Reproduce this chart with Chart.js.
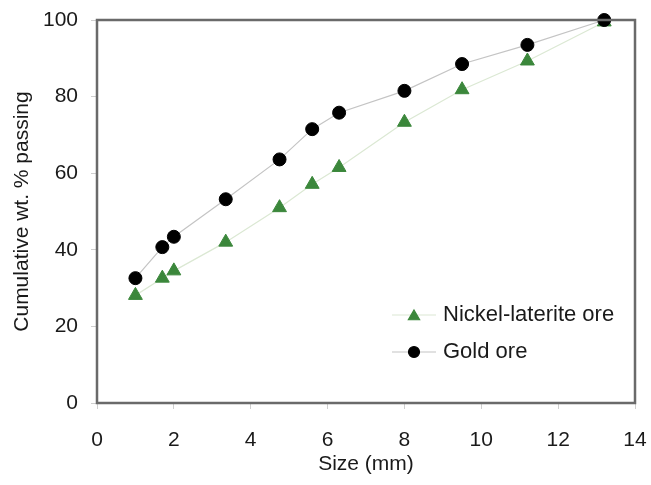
<!DOCTYPE html>
<html>
<head>
<meta charset="utf-8">
<script src="https://cdn.jsdelivr.net/npm/chart.js@4/dist/chart.umd.min.js"></script>
<style>
  html, body { margin: 0; padding: 0; background: #fff; }
  #wrap { width: 651px; height: 485px; }
</style>
</head>
<body>
<div id="wrap"><canvas id="psd" width="651" height="485"></canvas></div>
<script>
// sieve sizes (mm)
const sizes = [1.0, 1.7, 2.0, 3.35, 4.75, 5.6, 6.3, 8.0, 9.5, 11.2, 13.2];

// cumulative wt. % passing
const goldOre = [32.6, 40.7, 43.4, 53.2, 63.6, 71.5, 75.8, 81.5, 88.5, 93.5, 100];
const nickelOre = [28.1, 32.6, 34.5, 42.0, 51.0, 57.1, 61.5, 73.3, 81.8, 89.3, 99.5];

const seriesNames = ['Nickel-laterite ore', 'Gold ore'];

const xTicks = [0, 2, 4, 6, 8, 10, 12, 14];
const yTicks = [0, 20, 40, 60, 80, 100];

const FONT = "'Liberation Sans', Arial, sans-serif";

const toPts = (ys) => sizes.map((x, i) => ({ x: x, y: ys[i] }));

// box round the plot area
const frame = {
  id: 'frame',
  afterDatasetsDraw(chart) {
    const { ctx, chartArea: a } = chart;
    ctx.save();
    ctx.strokeStyle = '#6a6a6a';
    ctx.lineWidth = 2.5;
    ctx.strokeRect(a.left, a.top, a.right - a.left, a.bottom - a.top);
    ctx.restore();
  }
};

// legend inside the plot, bottom right
const innerLegend = {
  id: 'innerLegend',
  afterDraw(chart) {
    const ctx = chart.ctx;
    const rows = [
      { ds: chart.data.datasets[1], y: 315 },
      { ds: chart.data.datasets[0], y: 352 }
    ];
    ctx.save();
    rows.forEach(r => {
      ctx.strokeStyle = r.ds.borderColor;
      ctx.lineWidth = 1.2;
      ctx.beginPath();
      ctx.moveTo(392, r.y);
      ctx.lineTo(436, r.y);
      ctx.stroke();
      ctx.fillStyle = r.ds.pointBackgroundColor;
      ctx.strokeStyle = r.ds.pointBorderColor;
      Chart.helpers.drawPoint(ctx, {
        pointStyle: r.ds.pointStyle,
        radius: r.ds.pointStyle === 'triangle' ? 6.5 : 5.5,
        rotation: 0,
        borderWidth: 1
      }, 414, r.ds.pointStyle === 'triangle' ? r.y + 1.5 : r.y);
      ctx.fillStyle = '#1a1a1a';
      ctx.font = '22px ' + FONT;
      ctx.textBaseline = 'middle';
      ctx.textAlign = 'left';
      ctx.fillText(r.ds.label, 443, r.y);
    });
    ctx.restore();
  }
};

const config = {
  type: 'scatter',
  data: {
    datasets: [
      {
        label: seriesNames[1],
        data: toPts(goldOre),
        showLine: true,
        borderColor: '#c4c4c4',
        borderWidth: 1.2,
        pointStyle: 'circle',
        pointRadius: 6.5,
        pointBackgroundColor: '#000',
        pointBorderColor: '#000',
        pointBorderWidth: 1,
        clip: false
      },
      {
        label: seriesNames[0],
        data: toPts(nickelOre),
        showLine: true,
        borderColor: '#dbe8d3',
        borderWidth: 1.2,
        pointStyle: 'triangle',
        pointRadius: 8,
        pointBackgroundColor: '#3b873b',
        pointBorderColor: '#3b873b',
        pointBorderWidth: 1,
        clip: false
      }
    ]
  },
  options: {
    responsive: false,
    animation: false,
    layout: { padding: { top: 20, right: 16, left: 0, bottom: 0 } },
    scales: {
      x: {
        type: 'linear',
        min: 0,
        max: 14,
        afterBuildTicks: (s) => { s.ticks = xTicks.map(v => ({ value: v })); },
        afterFit: (s) => { s.height = 82; s.paddingLeft = 0; s.paddingRight = 0; },
        grid: { drawOnChartArea: false, drawTicks: true, tickLength: 6, color: '#cfcfcf' },
        border: { display: false },
        ticks: { color: '#1a1a1a', padding: 19, font: { family: FONT, size: 21 } },
        title: {
          display: true,
          text: 'Size (mm)',
          color: '#1a1a1a',
          padding: { top: 0, bottom: 8 },
          font: { family: FONT, size: 21 }
        }
      },
      y: {
        min: 0,
        max: 100,
        afterBuildTicks: (s) => { s.ticks = yTicks.map(v => ({ value: v })); },
        afterFit: (s) => { s.width = 97; s.paddingTop = 0; s.paddingBottom = 0; },
        grid: { drawOnChartArea: false, drawTicks: true, tickLength: 6, color: '#cfcfcf' },
        border: { display: false },
        ticks: { color: '#1a1a1a', padding: 13, font: { family: FONT, size: 21 } },
        title: {
          display: true,
          text: 'Cumulative wt. % passing',
          color: '#1a1a1a',
          padding: { top: 10, bottom: 0 },
          font: { family: FONT, size: 21 }
        }
      }
    },
    plugins: {
      legend: { display: false },
      tooltip: { enabled: false }
    }
  },
  plugins: [frame, innerLegend]
};

const psdChart = new Chart(document.getElementById('psd'), config);
</script>
</body>
</html>
